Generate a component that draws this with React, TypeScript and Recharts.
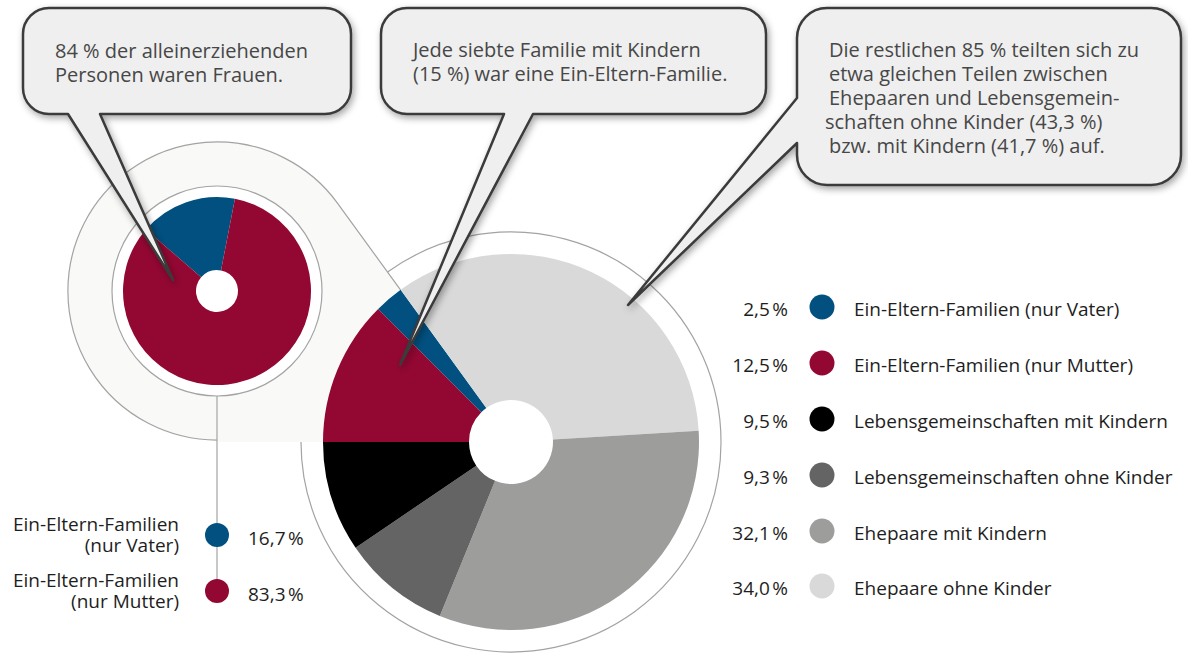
import React from 'react';
import { PieChart, Pie, Cell } from 'recharts';

// ---------- data ----------
const legendCategories = [
  'Ein-Eltern-Familien (nur Vater)',
  'Ein-Eltern-Familien (nur Mutter)',
  'Lebensgemeinschaften mit Kindern',
  'Lebensgemeinschaften ohne Kinder',
  'Ehepaare mit Kindern',
  'Ehepaare ohne Kinder',
];
const legendValues = [2.5, 12.5, 9.5, 9.3, 32.1, 34.0];
const legendColors = ['#01507f', '#930733', '#000000', '#646464', '#9d9d9c', '#d9d9d9'];
// order of slices clockwise starting at 9 o'clock
const pieOrder = [1, 0, 5, 4, 3, 2];

const smallCategories = ['Ein-Eltern-Familien (nur Vater)', 'Ein-Eltern-Familien (nur Mutter)'];
const smallLabelLines = [
  ['Ein-Eltern-Familien', '(nur Vater)'],
  ['Ein-Eltern-Familien', '(nur Mutter)'],
];
const smallValues = [16.7, 83.3];
const smallColors = ['#01507f', '#930733'];

const callout1 = ['84 % der alleinerziehenden', 'Personen waren Frauen.'];
const callout2 = ['Jede siebte Familie mit Kindern', '(15 %) war eine Ein-Eltern-Familie.'];
const callout3 = [
  'Die restlichen 85 % teilten sich zu',
  'etwa gleichen Teilen zwischen',
  'Ehepaaren und Lebensgemein-',
  'schaften ohne Kinder (43,3 %)',
  'bzw. mit Kindern (41,7 %) auf.',
];

// ---------- layout ----------
const W = 1188;
const H = 655;
const FONT = "'Open Sans', sans-serif";
const BIG = { cx: 511, cy: 442, r: 188, hole: 42, ring: 210 };
const SMALL = { cx: 217, cy: 291, r: 94, hole: 21, ring: 105 };
const ZOOM_ANGLE = 126;

const fmt = (v: number) => v.toFixed(1).replace('.', ',') + '\u202F%';
const rad = (a: number) => (a * Math.PI) / 180;

const bigData = pieOrder.map((i) => ({ name: legendCategories[i], value: legendValues[i], color: legendColors[i] }));
const smallData = smallCategories.map((n, i) => ({ name: n, value: smallValues[i], color: smallColors[i] }));

// connector geometry
const dir = { x: Math.cos(rad(ZOOM_ANGLE)), y: -Math.sin(rad(ZOOM_ANGLE)) };
const tProj = (SMALL.cx - BIG.cx) * dir.x + (SMALL.cy - BIG.cy) * dir.y;
const T1 = { x: BIG.cx + tProj * dir.x, y: BIG.cy + tProj * dir.y };
const haloR = Math.hypot(T1.x - SMALL.cx, T1.y - SMALL.cy);
const T2 = { x: SMALL.cx, y: SMALL.cy + haloR };
const P188 = { x: BIG.cx + BIG.r * dir.x, y: BIG.cy + BIG.r * dir.y };
const R210 = { x: BIG.cx + BIG.ring * dir.x, y: BIG.cy + BIG.ring * dir.y };

const fillPath = `M ${BIG.cx} ${BIG.cy} L ${T1.x} ${T1.y} A ${haloR} ${haloR} 0 1 0 ${T2.x} ${T2.y} L ${SMALL.cx} ${BIG.cy} Z`;
const edgePath = `M ${P188.x} ${P188.y} L ${T1.x} ${T1.y} A ${haloR} ${haloR} 0 1 0 ${T2.x} ${T2.y}`;
const ringPath = `M ${R210.x} ${R210.y} A ${BIG.ring} ${BIG.ring} 0 1 1 ${BIG.cx - BIG.ring} ${BIG.cy}`;

type Rect = { x0: number; y0: number; x1: number; y1: number; r: number };
function bubbleBottom(b: Rect, baseL: number, baseR: number, tip: [number, number]) {
  const { x0, y0, x1, y1, r } = b;
  return `M ${x0 + r} ${y0} H ${x1 - r} A ${r} ${r} 0 0 1 ${x1} ${y0 + r} V ${y1 - r} A ${r} ${r} 0 0 1 ${x1 - r} ${y1} H ${baseR} L ${tip[0]} ${tip[1]} L ${baseL} ${y1} H ${x0 + r} A ${r} ${r} 0 0 1 ${x0} ${y1 - r} V ${y0 + r} A ${r} ${r} 0 0 1 ${x0 + r} ${y0} Z`;
}
function bubbleLeft(b: Rect, baseTop: number, baseBot: number, tip: [number, number]) {
  const { x0, y0, x1, y1, r } = b;
  return `M ${x0 + r} ${y0} H ${x1 - r} A ${r} ${r} 0 0 1 ${x1} ${y0 + r} V ${y1 - r} A ${r} ${r} 0 0 1 ${x1 - r} ${y1} H ${x0 + r} A ${r} ${r} 0 0 1 ${x0} ${y1 - r} V ${baseBot} L ${tip[0]} ${tip[1]} L ${x0} ${baseTop} V ${y0 + r} A ${r} ${r} 0 0 1 ${x0 + r} ${y0} Z`;
}

const b1: Rect = { x0: 23, y0: 8, x1: 351, y1: 114, r: 26 };
const b2: Rect = { x0: 381, y0: 8, x1: 766, y1: 114, r: 26 };
const b3: Rect = { x0: 797, y0: 8, x1: 1181, y1: 185, r: 30 };

const legendRowY = [307, 363, 419, 475, 531, 586];
const CALLOUT_FS = 20;
const LEGEND_FS = 19;

export default function App() {
  return (
    <div style={{ position: 'absolute', left: 0, top: 0, width: W, height: H, background: '#fff', fontFamily: FONT }}>
      {/* background: connector shape and rings */}
      <svg width={W} height={H} style={{ position: 'absolute', left: 0, top: 0 }}>
        <path d={ringPath} fill="none" stroke="#a3a3a3" strokeWidth={1.2} />
        <path d={fillPath} fill="#f9f9f7" stroke="none" />
        <circle cx={BIG.cx} cy={BIG.cy} r={BIG.hole + 1} fill="#ffffff" />
        <path d={edgePath} fill="none" stroke="#a3a3a3" strokeWidth={1.2} />
        <line x1={SMALL.cx} y1={SMALL.cy + SMALL.ring} x2={SMALL.cx} y2={legendRowY[5] + 5} stroke="#a3a3a3" strokeWidth={1.2} />
        <circle cx={SMALL.cx} cy={SMALL.cy} r={SMALL.ring} fill="#ffffff" stroke="#a3a3a3" strokeWidth={1.2} />
      </svg>

      <div style={{ position: 'absolute', left: 0, top: 0 }}>
        <PieChart width={W} height={H} margin={{ top: 0, right: 0, bottom: 0, left: 0 }}>
          <Pie
            data={bigData}
            dataKey="value"
            nameKey="name"
            cx={BIG.cx}
            cy={BIG.cy}
            outerRadius={BIG.r}
            innerRadius={BIG.hole}
            startAngle={180}
            endAngle={-180}
            stroke="none"
            isAnimationActive={false}
          >
            {bigData.map((d, i) => (
              <Cell key={i} fill={d.color} stroke="none" />
            ))}
          </Pie>
          <Pie
            data={smallData}
            dataKey="value"
            nameKey="name"
            cx={SMALL.cx}
            cy={SMALL.cy}
            outerRadius={SMALL.r}
            innerRadius={SMALL.hole}
            startAngle={79}
            endAngle={439}
            stroke="none"
            isAnimationActive={false}
          >
            {smallData.map((d, i) => (
              <Cell key={i} fill={d.color} stroke="none" />
            ))}
          </Pie>
        </PieChart>
      </div>

      {/* overlay: callouts and legends */}
      <svg width={W} height={H} style={{ position: 'absolute', left: 0, top: 0 }} fontFamily={FONT}>
        <defs>
          <filter id="shadow" x="-30%" y="-30%" width="160%" height="200%">
            <feDropShadow dx={2} dy={3} stdDeviation={3.5} floodColor="#000" floodOpacity={0.35} />
          </filter>
        </defs>

        <path d={bubbleBottom(b1, 68, 100, [173, 280])} fill="#efefef" stroke="#3a3a3a" strokeWidth={2.5} strokeLinejoin="round" filter="url(#shadow)" />
        <path d={bubbleBottom(b2, 504, 533, [400, 365])} fill="#efefef" stroke="#3a3a3a" strokeWidth={2.5} strokeLinejoin="round" filter="url(#shadow)" />
        <path d={bubbleLeft(b3, 98, 143, [628, 305])} fill="#efefef" stroke="#3a3a3a" strokeWidth={2.5} strokeLinejoin="round" filter="url(#shadow)" />

        <text fontSize={CALLOUT_FS} fill="#474747">
          {callout1.map((t, i) => (
            <tspan key={i} x={55} y={58 + i * 24}>{t}</tspan>
          ))}
        </text>
        <text fontSize={CALLOUT_FS} fill="#474747">
          {callout2.map((t, i) => (
            <tspan key={i} x={413} y={57 + i * 24}>{t}</tspan>
          ))}
        </text>
        <text fontSize={CALLOUT_FS} fill="#474747">
          {callout3.map((t, i) => (
            <tspan key={i} x={i === 3 ? 825 : 829} y={57 + i * 24}>{t}</tspan>
          ))}
        </text>

        {/* right legend */}
        {legendCategories.map((c, i) => (
          <g key={i}>
            <text x={788} y={legendRowY[i] + 9} fontSize={LEGEND_FS} fill="#1e1e1e" textAnchor="end">{fmt(legendValues[i])}</text>
            <circle cx={822} cy={legendRowY[i]} r={12.5} fill={legendColors[i]} />
            <text x={854} y={legendRowY[i] + 9} fontSize={LEGEND_FS} fill="#1e1e1e">{c}</text>
          </g>
        ))}

        {/* small pie legend */}
        {smallCategories.map((c, i) => {
          const cy = i === 0 ? 535 : 591;
          return (
            <g key={i}>
              <text fontSize={LEGEND_FS} fill="#1e1e1e" textAnchor="end">
                <tspan x={179} y={cy - 4}>{smallLabelLines[i][0]}</tspan>
                <tspan x={179} y={cy + 17}>{smallLabelLines[i][1]}</tspan>
              </text>
              <circle cx={SMALL.cx} cy={cy} r={12} fill={smallColors[i]} />
              <text x={248} y={cy + 10} fontSize={LEGEND_FS} fill="#1e1e1e">{fmt(smallValues[i])}</text>
            </g>
          );
        })}
      </svg>
    </div>
  );
}
